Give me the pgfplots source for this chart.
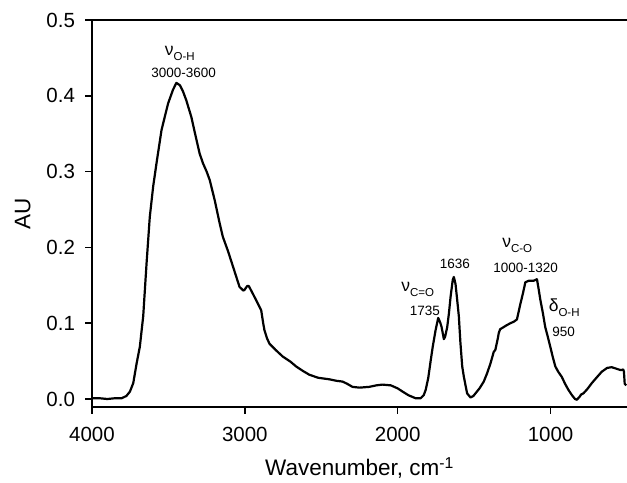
\documentclass[border=0pt]{standalone}
\usepackage{fontspec}
\setmainfont{Liberation Sans}
\usepackage{pgfplots}
\pgfplotsset{compat=1.18}
\newcommand{\fs}[1]{\fontsize{#1}{#1}\selectfont}
\newcommand{\sub}[1]{\raisebox{-5bp}{\fs{11.5bp}#1}}
\newcommand{\gr}[1]{{\fs{17.5bp}#1}}

\begin{document}
\begin{tikzpicture}
\useasboundingbox (-92bp,-76bp) rectangle (535bp,407bp);
\begin{axis}[
  scale only axis,
  width=535bp, height=387bp,
  x dir=reverse,
  xmin=500, xmax=4000,
  ymin=-0.01055, ymax=0.5,
  xtick={1000,2000,3000,4000},
  ytick={0,0.1,0.2,0.3,0.4,0.5},
  xtick pos=left, ytick pos=left,
  tick align=outside,
  major tick length=6.5bp,
  every tick/.style={black, line width=1.5bp},
  axis line style={draw=none},
  tick label style={font=\fs{20.5bp}},
  xticklabel shift=10bp,
  yticklabel shift=7bp,
  /pgf/number format/assume math mode=true,
  xticklabel style={/pgf/number format/set thousands separator={}},
  yticklabel style={/pgf/number format/.cd, fixed, fixed zerofill, precision=1},
  xlabel={Wavenumber, cm\textsuperscript{-1}},
  ylabel={AU},
  xlabel shift=9bp,
  ylabel shift=9bp,
  label style={font=\fs{22.5bp}},
  clip=true,
]
\addplot[black, line width=2.2bp, line join=round] coordinates {
(4000,0.001) (3950,0.001) (3900,0.000) (3850,0.001) (3806,0.001)
(3775,0.004) (3752,0.0097) (3730,0.021) (3708,0.047) (3687,0.069)
(3665,0.109) (3643,0.179) (3622,0.240) (3600,0.280) (3578,0.311)
(3545,0.355) (3502,0.390) (3470,0.408) (3448,0.417) (3425,0.414)
(3405,0.406) (3383,0.394) (3350,0.372) (3320,0.345) (3296,0.324)
(3274,0.311) (3250,0.300) (3230,0.289) (3198,0.263) (3165,0.232)
(3144,0.214) (3110,0.195) (3078,0.175) (3035,0.148) (3010,0.143)
(3002,0.144) (2985,0.149) (2974,0.149) (2948,0.139) (2915,0.126)
(2893,0.117) (2880,0.100) (2872,0.091) (2855,0.080) (2839,0.073)
(2800,0.065) (2752,0.056) (2700,0.049) (2665,0.043) (2620,0.037)
(2578,0.032) (2520,0.028) (2448,0.026) (2400,0.024) (2361,0.023)
(2330,0.020) (2296,0.016) (2250,0.015) (2187,0.016) (2140,0.018)
(2100,0.019) (2045,0.018) (2000,0.014) (1970,0.010) (1930,0.005)
(1883,0.001) (1850,0.001) (1830,0.005) (1817,0.012) (1800,0.028)
(1784,0.051) (1770,0.070) (1752,0.091) (1735,0.107) (1722,0.101)
(1713,0.095) (1698,0.079) (1690,0.082) (1676,0.095) (1665,0.113)
(1654,0.135) (1640,0.157) (1633,0.161) (1622,0.152) (1611,0.131)
(1600,0.109) (1590,0.075) (1578,0.043) (1567,0.029) (1546,0.0075)
(1524,0.002) (1505,0.004) (1491,0.0075) (1465,0.014) (1437,0.023)
(1415,0.034) (1393,0.047) (1372,0.062) (1361,0.065) (1345,0.080)
(1339,0.087) (1330,0.092) (1322,0.093) (1290,0.097) (1263,0.100)
(1240,0.102) (1220,0.105) (1198,0.125) (1180,0.140) (1165,0.154)
(1143,0.156) (1111,0.156) (1100,0.157) (1089,0.158) (1078,0.145)
(1067,0.131) (1050,0.113) (1035,0.095) (1018,0.082) (1002,0.069)
(985,0.055) (969,0.043) (950,0.036) (926,0.029) (905,0.020)
(883,0.012) (860,0.005) (840,0.000) (828,-0.001) (810,0.003)
(800,0.006) (785,0.0075) (760,0.013) (730,0.021) (700,0.028)
(665,0.036) (630,0.041) (600,0.042) (570,0.040) (540,0.038)
(525,0.039) (520,0.036) (515,0.020) (505,0.018)
};
\node[anchor=base west, inner sep=0pt] at (axis cs:3524,0.4538) {\gr{ν}\sub{O-H}};
\node[anchor=base, inner sep=0pt, font=\fs{13.5bp}] at (axis cs:3400,0.4235) {3000-3600};
\node[anchor=base west, inner sep=0pt] at (axis cs:1978,0.1412) {\gr{ν}\sub{C=O}};
\node[anchor=base, inner sep=0pt, font=\fs{13.5bp}] at (axis cs:1822,0.1108) {1735};
\node[anchor=base, inner sep=0pt, font=\fs{13.5bp}] at (axis cs:1626,0.1728) {1636};
\node[anchor=base west, inner sep=0pt] at (axis cs:1317,0.2005) {\gr{ν}\sub{C-O}};
\node[anchor=base, inner sep=0pt, font=\fs{13.5bp}] at (axis cs:1163,0.1675) {1000-1320};
\node[anchor=base west, inner sep=0pt] at (axis cs:1013,0.1148) {\gr{δ}\sub{O-H}};
\node[anchor=base, inner sep=0pt, font=\fs{13.5bp}] at (axis cs:915,0.0818) {950};
\end{axis}
\draw[line width=1.5bp, line cap=rect]
  ([yshift=-4bp]current axis.south west) -- (current axis.north west)
  -- (current axis.north east);
\draw[line width=1.5bp] (current axis.south west) -- (current axis.south east);
\end{tikzpicture}
\end{document}
